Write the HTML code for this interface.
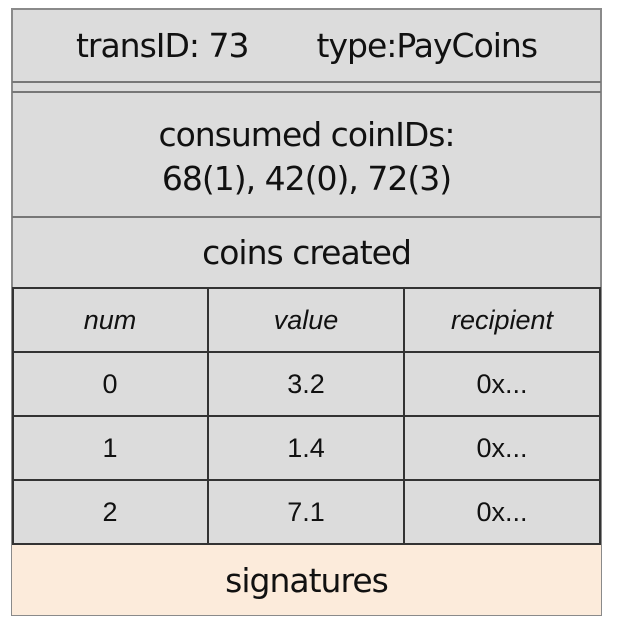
<!DOCTYPE html>
<html><head><style>
body{margin:0;width:618px;height:624px;background:#fff;position:relative;overflow:hidden}
div{position:absolute;box-sizing:border-box}
.t{font-family:"DejaVu Sans","Liberation Sans",sans-serif;color:#111;text-align:center;font-size:33px;letter-spacing:-1px}
.c{font-family:"Liberation Sans",sans-serif;color:#111;text-align:center;font-size:27px;line-height:64px}
.i{font-style:italic}
.hl{background:#777;height:2px}
.vl{background:#333;width:2px}
.dl{background:#333;height:2px}
</style></head><body>
<div style="left:11px;top:8px;width:591px;height:608px;background:#dcdcdc;border:2px solid #8a8a8a"></div>
<div class="hl" style="left:12px;top:81px;width:589px"></div>
<div class="hl" style="left:12px;top:91px;width:589px"></div>
<div class="hl" style="left:12px;top:216px;width:589px"></div>
<div class="t" style="left:12px;top:25px;width:589px;line-height:42px"><span style="margin-right:68px">transID: 73</span>type:PayCoins</div>
<div class="t" style="left:12px;top:113px;width:589px;line-height:44px">consumed coinIDs:<br>68(1), 42(0), 72(3)</div>
<div class="t" style="left:12px;top:231px;width:589px;line-height:44px">coins created</div>
<div style="left:12px;top:544px;width:589px;height:71px;background:#fcebdb"></div>
<div class="t" style="left:12px;top:559px;width:589px;line-height:44px">signatures</div>
<div class="dl" style="left:12px;top:287px;width:589px"></div>
<div class="dl" style="left:12px;top:351px;width:589px"></div>
<div class="dl" style="left:12px;top:415px;width:589px"></div>
<div class="dl" style="left:12px;top:479px;width:589px"></div>
<div class="dl" style="left:12px;top:543px;width:589px"></div>
<div class="vl" style="left:12px;top:287px;height:258px"></div>
<div class="vl" style="left:207px;top:287px;height:258px"></div>
<div class="vl" style="left:403px;top:287px;height:258px"></div>
<div class="vl" style="left:599px;top:287px;height:258px"></div>
<div class="c i" style="left:12px;top:288px;width:196px">num</div>
<div class="c i" style="left:208px;top:288px;width:196px">value</div>
<div class="c i" style="left:404px;top:288px;width:196px">recipient</div>
<div class="c" style="left:12px;top:352px;width:196px">0</div>
<div class="c" style="left:208px;top:352px;width:196px">3.2</div>
<div class="c" style="left:404px;top:352px;width:196px">0x...</div>
<div class="c" style="left:12px;top:416px;width:196px">1</div>
<div class="c" style="left:208px;top:416px;width:196px">1.4</div>
<div class="c" style="left:404px;top:416px;width:196px">0x...</div>
<div class="c" style="left:12px;top:480px;width:196px">2</div>
<div class="c" style="left:208px;top:480px;width:196px">7.1</div>
<div class="c" style="left:404px;top:480px;width:196px">0x...</div>
</body></html>
